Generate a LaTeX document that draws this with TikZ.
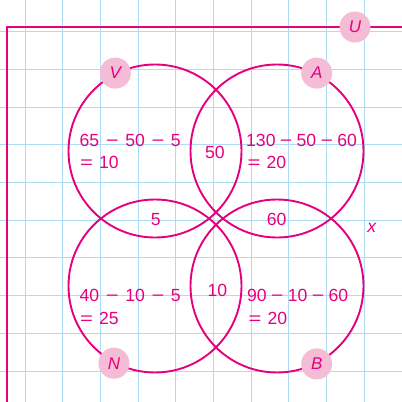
\documentclass[tikz,border=0pt]{standalone}
\usepackage{fontspec}
\setmainfont{Liberation Sans}
\definecolor{pinkline}{RGB}{230,0,126}
\definecolor{pinkfill}{RGB}{245,188,213}
\definecolor{gridblue}{RGB}{175,220,245}
\newcommand\mnA{\hspace{6.6pt}\scalebox{1.25}[1]{−}\hspace{6.6pt}}
\newcommand\mnB{\hspace{4.4pt}\scalebox{1.2}[1]{−}\hspace{4.4pt}}
\newcommand\eqs{\scalebox{1.25}[1]{=}\hspace{6pt}}
\tikzset{
  gridline/.style={draw=gridblue, line width=1pt},
  frameline/.style={draw=pinkline, line width=2pt},
  setcircle/.style={circle, draw=pinkline, line width=1.9pt, minimum size=173pt, inner sep=0pt},
  tag/.style={circle, fill=pinkfill, minimum size=31pt, inner sep=0pt, text=pinkline,
    font=\fontsize{17}{20}\selectfont\itshape},
  txt/.style={inner sep=0pt, text=pinkline, font=\fontsize{17.6}{20}\selectfont},
}
\begin{document}
\begin{tikzpicture}[x=1pt, y=-1pt]
\useasboundingbox (0,0) rectangle (402,402);
\fill[white] (0,0) rectangle (402,402);
% grid
\foreach \i in {0,...,10} \draw[gridline] ({25+37.7*\i},0) -- ({25+37.7*\i},402);
\foreach \j in {0,...,9} \draw[gridline] (0,{31.7+37.7*\j}) -- (402,{31.7+37.7*\j});
% frame
\coordinate (fL) at (7,402);
\coordinate (fC) at (7,27);
\coordinate (fR) at (402,27);
\draw[frameline] (fL) -- (fC) -- (fR);
% sets
\node[setcircle] (V) at (155,151) {};
\node[setcircle] (A) at (277,151) {};
\node[setcircle] (N) at (155,286) {};
\node[setcircle] (B) at (277,286) {};
% region texts
\node[txt, anchor=base west] (v1) at (79.5,146.7) {65\mnA 50\mnA 5};
\node[txt, anchor=base west] (v2) at (80,168.3) {\eqs 10};
\node[txt, anchor=base] (va) at (215,158.3) {50};
\node[txt, anchor=base west] (a1) at (246,146.7) {130\mnB 50\mnB 60};
\node[txt, anchor=base west] (a2) at (247.5,168.3) {\eqs 20};
\node[txt, anchor=base] (vn) at (155.8,225) {5};
\node[txt, anchor=base] (ab) at (276.7,225) {60};
\node[txt, anchor=base] (x) at (371.7,232.3) {\itshape x};
\node[txt, anchor=base west] (n1) at (79.5,301.7) {40\mnA 10\mnA 5};
\node[txt, anchor=base west] (n2) at (80,324) {\eqs 25};
\node[txt, anchor=base] (nb) at (217.5,296) {10};
\node[txt, anchor=base west] (b1) at (247,301.7) {90\mnB 10\mnB 60};
\node[txt, anchor=base west] (b2) at (248.5,324) {\eqs 20};
% tags
\node[tag] (tV) at (V.117.5) {V};
\node[tag] (tA) at (A.63) {A};
\node[tag] (tN) at (N.242) {N};
\node[tag] (tB) at (B.297) {B};
\node[tag] (tU) at (355,27) {U};
\end{tikzpicture}
\end{document}
